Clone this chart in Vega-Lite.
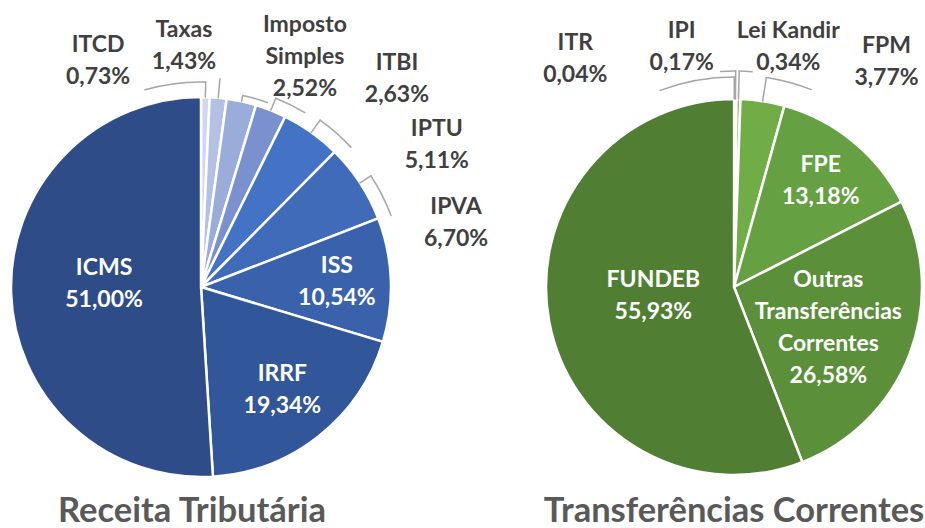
{
  "$schema": "https://vega.github.io/schema/vega-lite/v6.json",
  "padding": {"left": 0, "right": 0, "top": 14, "bottom": 0},
  "background": "white",
  "spacing": 141,
  "bounds": "flush",
  "config": {"view": {"stroke": null}, "font": "Lato", "arc": {"strokeJoin": "round", "strokeCap": "round"}},
  "resolve": {"scale": {"color": "independent", "theta": "independent"}},
  "datasets": {
    "receita": [
      {"name": "ITCD", "value": 0.73},
      {"name": "Taxas", "value": 1.43},
      {"name": "Imposto Simples", "value": 2.52},
      {"name": "ITBI", "value": 2.63},
      {"name": "IPTU", "value": 5.11},
      {"name": "IPVA", "value": 6.70},
      {"name": "ISS", "value": 10.54},
      {"name": "IRRF", "value": 19.34},
      {"name": "ICMS", "value": 51.00}
    ],
    "transf": [
      {"name": "ITR", "value": 0.04},
      {"name": "IPI", "value": 0.17},
      {"name": "Lei Kandir", "value": 0.34},
      {"name": "FPM", "value": 3.77},
      {"name": "FPE", "value": 13.18},
      {"name": "Outras Transferências Correntes", "value": 26.58},
      {"name": "FUNDEB", "value": 55.93}
    ]
  },
  "hconcat": [
    {
      "width": 402,
      "height": 410,
      "data": {"name": "receita"},
      "title": {"text": "Receita Tributária", "orient": "bottom", "anchor": "middle", "baseline": "alphabetic", "offset": 30, "dx": -9, "font": "Lato", "fontSize": 34.5, "fontWeight": "bold", "color": "#595959"},
      "transform": [
        {"window": [{"op": "sum", "field": "value", "as": "cum"}]},
        {"calculate": "datum.cum - datum.value", "as": "start"},
        {"calculate": "datum.cum - datum.value / 2", "as": "mid"},
        {"calculate": "replace(datum.name, regexp(' ', 'g'), '\\n') + '\\n' + replace(format(datum.value, '.2f'), '.', ',') + '%'", "as": "lab"}
      ],
      "layer": [
        {
          "mark": {"type": "arc", "radius": 190, "stroke": "white", "strokeWidth": 2.5, "strokeJoin": "miter"},
          "encoding": {
            "theta": {"field": "start", "type": "quantitative", "scale": {"domain": [0, 100]}, "stack": null},
            "theta2": {"field": "cum"},
            "color": {"field": "name", "type": "nominal", "legend": null,
              "scale": {"domain": ["ITCD", "Taxas", "Imposto Simples", "ITBI", "IPTU", "IPVA", "ISS", "IRRF", "ICMS"],
                        "range": ["#D0D8EE", "#B4C1E4", "#9AACDA", "#7B91CF", "#4472C4", "#3F6BB8", "#3A62AC", "#31569A", "#2E4D88"]}}
          }
        },
        {"transform": [{"filter": "datum.name == 'ITCD'"}], "mark": {"type": "arc", "radius": 205, "radius2": 190, "filled": false, "stroke": "#A6A6A6", "strokeWidth": 1.5},
         "encoding": {"theta": {"field": "mid", "type": "quantitative", "scale": {"domain": [0, 100]}}, "theta2": {"field": "mid"}}},
        {"transform": [{"filter": "datum.name == 'ITCD'"}], "mark": {"type": "arc", "radius": 205, "radius2": 205, "theta2Offset": -0.30, "filled": false, "stroke": "#A6A6A6", "strokeWidth": 1.5},
         "encoding": {"theta": {"field": "mid", "type": "quantitative", "scale": {"domain": [0, 100]}}, "theta2": {"field": "mid"}}},
        {"transform": [{"filter": "datum.name == 'Taxas'"}], "mark": {"type": "arc", "radius": 209, "radius2": 190, "filled": false, "stroke": "#A6A6A6", "strokeWidth": 1.5},
         "encoding": {"theta": {"field": "mid", "type": "quantitative", "scale": {"domain": [0, 100]}}, "theta2": {"field": "mid"}}},
        {"transform": [{"filter": "datum.name == 'Imposto Simples'"}], "mark": {"type": "arc", "radius": 196, "radius2": 190, "filled": false, "stroke": "#A6A6A6", "strokeWidth": 1.5},
         "encoding": {"theta": {"field": "mid", "type": "quantitative", "scale": {"domain": [0, 100]}}, "theta2": {"field": "mid"}}},
        {"transform": [{"filter": "datum.name == 'Imposto Simples'"}], "mark": {"type": "arc", "radius": 196, "radius2": 196, "theta2Offset": 0.13, "filled": false, "stroke": "#A6A6A6", "strokeWidth": 1.5},
         "encoding": {"theta": {"field": "mid", "type": "quantitative", "scale": {"domain": [0, 100]}}, "theta2": {"field": "mid"}}},
        {"transform": [{"filter": "datum.name == 'ITBI'"}], "mark": {"type": "arc", "radius": 203, "radius2": 190, "filled": false, "stroke": "#A6A6A6", "strokeWidth": 1.5},
         "encoding": {"theta": {"field": "mid", "type": "quantitative", "scale": {"domain": [0, 100]}}, "theta2": {"field": "mid"}}},
        {"transform": [{"filter": "datum.name == 'ITBI'"}], "mark": {"type": "arc", "radius": 203, "radius2": 203, "theta2Offset": 0.16, "filled": false, "stroke": "#A6A6A6", "strokeWidth": 1.5},
         "encoding": {"theta": {"field": "mid", "type": "quantitative", "scale": {"domain": [0, 100]}}, "theta2": {"field": "mid"}}},
        {"transform": [{"filter": "datum.name == 'IPTU'"}], "mark": {"type": "arc", "radius": 205, "radius2": 190, "filled": false, "stroke": "#A6A6A6", "strokeWidth": 1.5},
         "encoding": {"theta": {"field": "mid", "type": "quantitative", "scale": {"domain": [0, 100]}}, "theta2": {"field": "mid"}}},
        {"transform": [{"filter": "datum.name == 'IPTU'"}], "mark": {"type": "arc", "radius": 205, "radius2": 205, "theta2Offset": 0.20, "filled": false, "stroke": "#A6A6A6", "strokeWidth": 1.5},
         "encoding": {"theta": {"field": "mid", "type": "quantitative", "scale": {"domain": [0, 100]}}, "theta2": {"field": "mid"}}},
        {"transform": [{"filter": "datum.name == 'IPVA'"}], "mark": {"type": "arc", "radius": 203, "radius2": 190, "filled": false, "stroke": "#A6A6A6", "strokeWidth": 1.5},
         "encoding": {"theta": {"field": "mid", "type": "quantitative", "scale": {"domain": [0, 100]}}, "theta2": {"field": "mid"}}},
        {"transform": [{"filter": "datum.name == 'IPVA'"}], "mark": {"type": "arc", "radius": 203, "radius2": 203, "theta2Offset": 0.22, "filled": false, "stroke": "#A6A6A6", "strokeWidth": 1.5},
         "encoding": {"theta": {"field": "mid", "type": "quantitative", "scale": {"domain": [0, 100]}}, "theta2": {"field": "mid"}}},
        {"transform": [{"filter": "datum.name == 'ICMS'"}], "mark": {"type": "text", "radius": 97, "dy": -22, "fontSize": 23, "fontWeight": "bold", "color": "white", "lineHeight": 32, "lineBreak": "\n", "align": "center", "baseline": "middle"},
         "encoding": {"theta": {"field": "mid", "type": "quantitative", "scale": {"domain": [0, 100]}}, "text": {"field": "lab"}}},
        {"transform": [{"filter": "datum.name == 'ISS'"}], "mark": {"type": "text", "radius": 136, "dy": -16, "fontSize": 23, "fontWeight": "bold", "color": "white", "lineHeight": 32, "lineBreak": "\n", "align": "center", "baseline": "middle"},
         "encoding": {"theta": {"field": "mid", "type": "quantitative", "scale": {"domain": [0, 100]}}, "text": {"field": "lab"}}},
        {"transform": [{"filter": "datum.name == 'IRRF'"}], "mark": {"type": "text", "radius": 131, "dy": -16, "fontSize": 23, "fontWeight": "bold", "color": "white", "lineHeight": 32, "lineBreak": "\n", "align": "center", "baseline": "middle"},
         "encoding": {"theta": {"field": "mid", "type": "quantitative", "scale": {"domain": [0, 100]}}, "text": {"field": "lab"}}},
        {"transform": [{"filter": "datum.name == 'ITCD'"}], "mark": {"type": "text", "radius": 220, "dx": -108, "dy": -22, "fontSize": 23, "fontWeight": "bold", "color": "#404040", "lineHeight": 32, "lineBreak": "\n", "align": "center", "baseline": "middle"},
         "encoding": {"theta": {"field": "mid", "type": "quantitative", "scale": {"domain": [0, 100]}}, "text": {"field": "lab"}}},
        {"transform": [{"filter": "datum.name == 'Taxas'"}], "mark": {"type": "text", "radius": 220, "dx": -37, "dy": -38, "fontSize": 23, "fontWeight": "bold", "color": "#404040", "lineHeight": 32, "lineBreak": "\n", "align": "center", "baseline": "middle"},
         "encoding": {"theta": {"field": "mid", "type": "quantitative", "scale": {"domain": [0, 100]}}, "text": {"field": "lab"}}},
        {"transform": [{"filter": "datum.name == 'Imposto Simples'"}], "mark": {"type": "text", "radius": 220, "dx": 57, "dy": -47, "fontSize": 23, "fontWeight": "bold", "color": "#404040", "lineHeight": 32, "lineBreak": "\n", "align": "center", "baseline": "middle"},
         "encoding": {"theta": {"field": "mid", "type": "quantitative", "scale": {"domain": [0, 100]}}, "text": {"field": "lab"}}},
        {"transform": [{"filter": "datum.name == 'ITBI'"}], "mark": {"type": "text", "radius": 220, "dx": 115, "dy": -19, "fontSize": 23, "fontWeight": "bold", "color": "#404040", "lineHeight": 32, "lineBreak": "\n", "align": "center", "baseline": "middle"},
         "encoding": {"theta": {"field": "mid", "type": "quantitative", "scale": {"domain": [0, 100]}}, "text": {"field": "lab"}}},
        {"transform": [{"filter": "datum.name == 'IPTU'"}], "mark": {"type": "text", "radius": 220, "dx": 108, "dy": 21, "fontSize": 23, "fontWeight": "bold", "color": "#404040", "lineHeight": 32, "lineBreak": "\n", "align": "center", "baseline": "middle"},
         "encoding": {"theta": {"field": "mid", "type": "quantitative", "scale": {"domain": [0, 100]}}, "text": {"field": "lab"}}},
        {"transform": [{"filter": "datum.name == 'IPVA'"}], "mark": {"type": "text", "radius": 220, "dx": 71, "dy": 41, "fontSize": 23, "fontWeight": "bold", "color": "#404040", "lineHeight": 32, "lineBreak": "\n", "align": "center", "baseline": "middle"},
         "encoding": {"theta": {"field": "mid", "type": "quantitative", "scale": {"domain": [0, 100]}}, "text": {"field": "lab"}}}
      ]
    },
    {
      "width": 382,
      "height": 410,
      "data": {"name": "transf"},
      "title": {"text": "Transferências Correntes", "orient": "bottom", "anchor": "middle", "baseline": "alphabetic", "offset": 30, "font": "Lato", "fontSize": 34.5, "fontWeight": "bold", "color": "#595959"},
      "transform": [
        {"window": [{"op": "sum", "field": "value", "as": "cum"}]},
        {"calculate": "datum.cum - datum.value", "as": "start"},
        {"calculate": "datum.cum - datum.value / 2", "as": "mid"},
        {"calculate": "replace(datum.name, regexp(' ', 'g'), '\\n') + '\\n' + replace(format(datum.value, '.2f'), '.', ',') + '%'", "as": "lab"},
        {"calculate": "datum.name + '\\n' + replace(format(datum.value, '.2f'), '.', ',') + '%'", "as": "lab1"}
      ],
      "layer": [
        {
          "mark": {"type": "arc", "radius": 188, "stroke": "white", "strokeWidth": 2.5, "strokeJoin": "miter"},
          "encoding": {
            "theta": {"field": "start", "type": "quantitative", "scale": {"domain": [0, 100]}, "stack": null},
            "theta2": {"field": "cum"},
            "color": {"field": "name", "type": "nominal", "legend": null,
              "scale": {"domain": ["ITR", "IPI", "Lei Kandir", "FPM", "FPE", "Outras Transferências Correntes", "FUNDEB"],
                        "range": ["#C5E0B4", "#A9D18E", "#8CC168", "#70AD47", "#65A042", "#5B8F3A", "#507E32"]}}
          }
        },
        {"transform": [{"filter": "datum.name == 'ITR'"}], "mark": {"type": "arc", "radius": 210, "radius2": 188, "filled": false, "stroke": "#A6A6A6", "strokeWidth": 1.5},
         "encoding": {"theta": {"field": "mid", "type": "quantitative", "scale": {"domain": [0, 100]}}, "theta2": {"field": "mid"}}},
        {"transform": [{"filter": "datum.name == 'ITR'"}], "mark": {"type": "arc", "radius": 210, "radius2": 210, "theta2Offset": -0.36, "filled": false, "stroke": "#A6A6A6", "strokeWidth": 1.5},
         "encoding": {"theta": {"field": "mid", "type": "quantitative", "scale": {"domain": [0, 100]}}, "theta2": {"field": "mid"}}},
        {"transform": [{"filter": "datum.name == 'IPI'"}], "mark": {"type": "arc", "radius": 216, "radius2": 188, "filled": false, "stroke": "#A6A6A6", "strokeWidth": 1.5},
         "encoding": {"theta": {"field": "mid", "type": "quantitative", "scale": {"domain": [0, 100]}}, "theta2": {"field": "mid"}}},
        {"transform": [{"filter": "datum.name == 'IPI'"}], "mark": {"type": "arc", "radius": 216, "radius2": 216, "theta2Offset": -0.07, "filled": false, "stroke": "#A6A6A6", "strokeWidth": 1.5},
         "encoding": {"theta": {"field": "mid", "type": "quantitative", "scale": {"domain": [0, 100]}}, "theta2": {"field": "mid"}}},
        {"transform": [{"filter": "datum.name == 'Lei Kandir'"}], "mark": {"type": "arc", "radius": 216, "radius2": 188, "filled": false, "stroke": "#A6A6A6", "strokeWidth": 1.5},
         "encoding": {"theta": {"field": "mid", "type": "quantitative", "scale": {"domain": [0, 100]}}, "theta2": {"field": "mid"}}},
        {"transform": [{"filter": "datum.name == 'Lei Kandir'"}], "mark": {"type": "arc", "radius": 216, "radius2": 216, "theta2Offset": 0.06, "filled": false, "stroke": "#A6A6A6", "strokeWidth": 1.5},
         "encoding": {"theta": {"field": "mid", "type": "quantitative", "scale": {"domain": [0, 100]}}, "theta2": {"field": "mid"}}},
        {"transform": [{"filter": "datum.name == 'FPM'"}], "mark": {"type": "arc", "radius": 212, "radius2": 188, "filled": false, "stroke": "#A6A6A6", "strokeWidth": 1.5},
         "encoding": {"theta": {"field": "mid", "type": "quantitative", "scale": {"domain": [0, 100]}}, "theta2": {"field": "mid"}}},
        {"transform": [{"filter": "datum.name == 'FPM'"}], "mark": {"type": "arc", "radius": 212, "radius2": 212, "theta2Offset": 0.22, "filled": false, "stroke": "#A6A6A6", "strokeWidth": 1.5},
         "encoding": {"theta": {"field": "mid", "type": "quantitative", "scale": {"domain": [0, 100]}}, "theta2": {"field": "mid"}}},
        {"transform": [{"filter": "datum.name == 'FUNDEB'"}], "mark": {"type": "text", "radius": 82, "dy": -22, "fontSize": 23, "fontWeight": "bold", "color": "white", "lineHeight": 32, "lineBreak": "\n", "align": "center", "baseline": "middle"},
         "encoding": {"theta": {"field": "mid", "type": "quantitative", "scale": {"domain": [0, 100]}}, "text": {"field": "lab"}}},
        {"transform": [{"filter": "datum.name == 'FPE'"}], "mark": {"type": "text", "radius": 137, "dy": -16, "fontSize": 23, "fontWeight": "bold", "color": "white", "lineHeight": 32, "lineBreak": "\n", "align": "center", "baseline": "middle"},
         "encoding": {"theta": {"field": "mid", "type": "quantitative", "scale": {"domain": [0, 100]}}, "text": {"field": "lab"}}},
        {"transform": [{"filter": "datum.name == 'Outras Transferências Correntes'"}], "mark": {"type": "text", "radius": 101, "dy": -43, "fontSize": 23, "fontWeight": "bold", "color": "white", "lineHeight": 32, "lineBreak": "\n", "align": "center", "baseline": "middle"},
         "encoding": {"theta": {"field": "mid", "type": "quantitative", "scale": {"domain": [0, 100]}}, "text": {"field": "lab"}}},
        {"transform": [{"filter": "datum.name == 'ITR'"}], "mark": {"type": "text", "radius": 220, "dx": -159, "dy": -24, "fontSize": 23, "fontWeight": "bold", "color": "#404040", "lineHeight": 32, "lineBreak": "\n", "align": "center", "baseline": "middle"},
         "encoding": {"theta": {"field": "mid", "type": "quantitative", "scale": {"domain": [0, 100]}}, "text": {"field": "lab"}}},
        {"transform": [{"filter": "datum.name == 'IPI'"}], "mark": {"type": "text", "radius": 220, "dx": -54, "dy": -36, "fontSize": 23, "fontWeight": "bold", "color": "#404040", "lineHeight": 32, "lineBreak": "\n", "align": "center", "baseline": "middle"},
         "encoding": {"theta": {"field": "mid", "type": "quantitative", "scale": {"domain": [0, 100]}}, "text": {"field": "lab"}}},
        {"transform": [{"filter": "datum.name == 'Lei Kandir'"}], "mark": {"type": "text", "radius": 220, "dx": 49, "dy": -36, "fontSize": 23, "fontWeight": "bold", "color": "#404040", "lineHeight": 32, "lineBreak": "\n", "align": "center", "baseline": "middle"},
         "encoding": {"theta": {"field": "mid", "type": "quantitative", "scale": {"domain": [0, 100]}}, "text": {"field": "lab1"}}},
        {"transform": [{"filter": "datum.name == 'FPM'"}], "mark": {"type": "text", "radius": 220, "dx": 119, "dy": -24, "fontSize": 23, "fontWeight": "bold", "color": "#404040", "lineHeight": 32, "lineBreak": "\n", "align": "center", "baseline": "middle"},
         "encoding": {"theta": {"field": "mid", "type": "quantitative", "scale": {"domain": [0, 100]}}, "text": {"field": "lab"}}}
      ]
    }
  ]
}
